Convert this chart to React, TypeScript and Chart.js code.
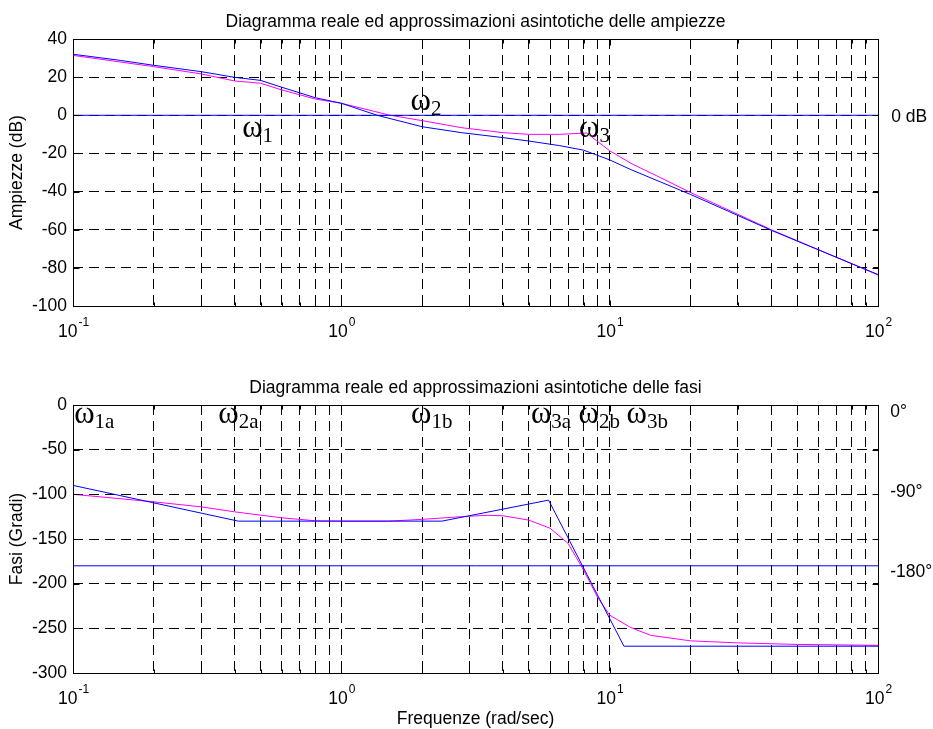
import React, { useEffect, useRef } from 'react';
import { Chart, registerables } from 'chart.js';

Chart.register(...registerables);

// ---------- data ----------
// Magnitude plot (dB)
const magRealFreq = [0.1, 0.15, 0.2, 0.3, 0.4, 0.5, 0.6, 0.8, 1, 1.36, 2, 2.8, 4, 5, 6.5, 8, 10, 12, 20, 40, 100];
const magRealDb = [32, 28.8, 26.2, 22.9, 19.9, 18.3, 14.7, 9.2, 6.3, 0, -6, -9.1, -11.7, -13.5, -15.9, -18.3, -23.4, -28.5, -41.5, -60.3, -83.5];
const magAsymFreq = [0.1, 0.2, 0.3, 0.4, 0.5, 0.6, 0.8, 1, 1.52, 2, 2.8, 4, 5, 6.5, 8.2, 10, 12, 15, 20, 40, 100];
const magAsymDb = [31.4, 25.5, 21.7, 18, 16.8, 13.3, 8.5, 6.3, 0, -2.8, -6.5, -9.1, -10, -10, -9.3, -18.6, -25.2, -31.8, -40.5, -60, -83.7];
const zeroDbFreq = [0.1, 100];
const zeroDbVal = [0, 0];

// Phase plot (degrees)
const phaseAsymFreq = [0.1, 0.413, 2.37, 5.92, 11.3, 100];
const phaseAsymDeg = [-90, -130, -130, -106.5, -270, -270];
const phaseRealFreq = [0.1, 0.2, 0.3, 0.4, 0.6, 0.8, 1, 1.5, 2, 2.8, 3.5, 4, 5, 6, 7, 8, 9, 10, 12, 14.2, 20, 30, 50, 100];
const phaseRealDeg = [-100, -108.4, -114, -119.6, -126.3, -129.6, -130, -130, -128, -125, -123.5, -124, -128.9, -138, -155, -185, -214.8, -235.3, -249.2, -257.8, -264, -266.3, -268, -269];
const minus180Freq = [0.1, 100];
const minus180Val = [-180, -180];

// Axes / ticks
const xTickValues = [0.1, 0.2, 0.3, 0.4, 0.5, 0.6, 0.7, 0.8, 0.9, 1, 2, 3, 4, 5, 6, 7, 8, 9, 10, 20, 30, 40, 50, 60, 70, 80, 90, 100];
const xDecades = [0.1, 1, 10, 100];
const xDecadeExponents = ['-1', '0', '1', '2'];
const magRange = [-100, 40];
const magStep = 20;
const phaseRange = [-300, 0];
const phaseStep = 50;

// Texts
const magTitle = 'Diagramma reale ed approssimazioni asintotiche delle ampiezze';
const phaseTitle = 'Diagramma reale ed approssimazioni asintotiche delle fasi';
const magYTitle = 'Ampiezze (dB)';
const phaseYTitle = 'Fasi (Gradi)';
const phaseXTitle = 'Frequenze (rad/sec)';

// Annotations (anchor in data coordinates: frequency, value)
const magOmegaLabels = [
  { sub: '1', x: 0.427, y: -11.4 },
  { sub: '2', x: 1.81, y: 2.8 },
  { sub: '3', x: 7.69, y: -11.2 },
];
const phaseOmegaLabels = [
  { sub: '1a', x: 0.101, y: -20.1 },
  { sub: '2a', x: 0.348, y: -20.1 },
  { sub: '1b', x: 1.82, y: -20.1 },
  { sub: '3a', x: 5.09, y: -20.1 },
  { sub: '2b', x: 7.66, y: -20.1 },
  { sub: '3b', x: 11.56, y: -20.1 },
];
const magSideLabels = [{ text: '0 dB', x: 112, y: -3.5 }];
const phaseSideLabels = [
  { text: '0°', x: 111, y: -13.4 },
  { text: '-90°', x: 111, y: -103 },
  { text: '-180°', x: 111, y: -192.5 },
];

// ---------- styling ----------
const W = 933;
const H = 729;
const SANS = '"Liberation Sans", Arial, Helvetica, sans-serif';
const SERIF = '"Liberation Serif", "Times New Roman", Times, serif';
const FS = 17.5;
const BLUE = '#0000ff';
const MAGENTA = '#ff00ff';
const DASH = [10, 6];

const pts = (xs: number[], ys: number[]) => xs.map((x, i) => ({ x, y: ys[i] }));

const decorPlugin = {
  id: 'bodeDecor',
  afterDraw(chart: any, _args: any, opts: any) {
    const { ctx, chartArea: ca, scales } = chart;
    const xs = scales.x;
    const ys = scales.y;
    ctx.save();
    ctx.setLineDash([]);
    ctx.strokeStyle = '#000';
    ctx.lineWidth = 1;
    const L = Math.round(ca.left) + 0.5;
    const R = Math.round(ca.right) + 0.5;
    const T = Math.round(ca.top) + 0.5;
    const B = Math.round(ca.bottom) + 0.5;
    // inward tick marks
    ctx.beginPath();
    for (const v of xTickValues) {
      const px = Math.round(xs.getPixelForValue(v)) + 0.5;
      const len = xDecades.includes(v) ? 6 : 4;
      ctx.moveTo(px, T);
      ctx.lineTo(px, T + len);
      ctx.moveTo(px, B);
      ctx.lineTo(px, B - len);
    }
    for (const t of ys.ticks) {
      const py = Math.round(ys.getPixelForValue(t.value)) + 0.5;
      ctx.moveTo(L, py);
      ctx.lineTo(L + 6, py);
      ctx.moveTo(R, py);
      ctx.lineTo(R - 6, py);
    }
    ctx.stroke();
    // frame
    ctx.strokeRect(L, T, R - L, B - T);

    ctx.fillStyle = '#000';
    // decade labels 10^n
    xDecades.forEach((v, i) => {
      const px = xs.getPixelForValue(v);
      ctx.font = `${FS}px ${SANS}`;
      const wMain = ctx.measureText('10').width;
      ctx.font = `12px ${SANS}`;
      const wExp = ctx.measureText(xDecadeExponents[i]).width;
      const start = px - (wMain + wExp) / 2;
      const base = ca.bottom + 31;
      ctx.textAlign = 'left';
      ctx.textBaseline = 'alphabetic';
      ctx.font = `${FS}px ${SANS}`;
      ctx.fillText('10', start, base);
      ctx.font = `12px ${SANS}`;
      ctx.fillText(xDecadeExponents[i], start + wMain + 1, base - 11);
    });

    // title
    ctx.font = `${FS}px ${SANS}`;
    ctx.textAlign = 'center';
    ctx.textBaseline = 'alphabetic';
    ctx.fillText(opts.title, (ca.left + ca.right) / 2, ca.top - 12);

    // x title
    if (opts.xTitle) {
      ctx.fillText(opts.xTitle, (ca.left + ca.right) / 2, ca.bottom + 51);
    }

    // y title
    ctx.save();
    ctx.translate(22, (ca.top + ca.bottom) / 2);
    ctx.rotate(-Math.PI / 2);
    ctx.textAlign = 'center';
    ctx.fillText(opts.yTitle, 0, 0);
    ctx.restore();

    // side labels
    ctx.textAlign = 'left';
    for (const s of opts.side) {
      ctx.fillText(s.text, xs.getPixelForValue(s.x), ys.getPixelForValue(s.y));
    }

    // omega labels
    for (const o of opts.omegas) {
      const px = xs.getPixelForValue(o.x);
      const py = ys.getPixelForValue(o.y);
      ctx.font = `31px ${SERIF}`;
      ctx.fillText('ω', px, py);
      const w = ctx.measureText('ω').width;
      ctx.font = `21px ${SERIF}`;
      ctx.fillText(o.sub, px + w, py + 5);
    }
    ctx.restore();
  },
};

function makeConfig(
  datasets: any[],
  yRange: number[],
  yStep: number,
  padTop: number,
  plotBottom: number,
  decor: any
): any {
  return {
    type: 'line',
    data: { datasets },
    options: {
      responsive: false,
      animation: false,
      events: [],
      layout: { padding: { left: 0, right: W - 878, top: padTop, bottom: H - plotBottom - 10 } },
      plugins: {
        legend: { display: false },
        title: { display: false },
        tooltip: { enabled: false },
        bodeDecor: decor,
      },
      elements: { point: { radius: 0 }, line: { tension: 0, borderWidth: 1 } },
      scales: {
        x: {
          type: 'logarithmic',
          min: 0.1,
          max: 100,
          afterBuildTicks: (s: any) => {
            s.ticks = xTickValues.map((v) => ({ value: v }));
          },
          afterFit: (s: any) => {
            s.height = 10;
          },
          ticks: { display: false, autoSkip: false },
          grid: { color: '#000', lineWidth: 1, drawTicks: false },
          border: { display: false, dash: DASH },
        },
        y: {
          type: 'linear',
          min: yRange[0],
          max: yRange[1],
          afterFit: (s: any) => {
            s.width = 73;
          },
          ticks: {
            stepSize: yStep,
            color: '#000',
            padding: 6,
            font: { family: SANS, size: FS },
          },
          grid: { color: '#000', lineWidth: 1, drawTicks: false },
          border: { display: false, dash: DASH },
        },
      },
    },
    plugins: [decorPlugin],
  };
}

export default function App() {
  const magRef = useRef<HTMLCanvasElement | null>(null);
  const phaseRef = useRef<HTMLCanvasElement | null>(null);

  useEffect(() => {
    const magChart = new Chart(
      magRef.current as HTMLCanvasElement,
      makeConfig(
        [
          { data: pts(zeroDbFreq, zeroDbVal), borderColor: BLUE },
          { data: pts(magRealFreq, magRealDb), borderColor: BLUE },
          { data: pts(magAsymFreq, magAsymDb), borderColor: MAGENTA },
        ],
        magRange,
        magStep,
        39,
        306,
        { title: magTitle, yTitle: magYTitle, xTitle: '', side: magSideLabels, omegas: magOmegaLabels }
      )
    );
    const phaseChart = new Chart(
      phaseRef.current as HTMLCanvasElement,
      makeConfig(
        [
          { data: pts(minus180Freq, minus180Val), borderColor: BLUE },
          { data: pts(phaseAsymFreq, phaseAsymDeg), borderColor: BLUE },
          { data: pts(phaseRealFreq, phaseRealDeg), borderColor: MAGENTA },
        ],
        phaseRange,
        phaseStep,
        405,
        673,
        { title: phaseTitle, yTitle: phaseYTitle, xTitle: phaseXTitle, side: phaseSideLabels, omegas: phaseOmegaLabels }
      )
    );
    return () => {
      magChart.destroy();
      phaseChart.destroy();
    };
  }, []);

  const canvasStyle: React.CSSProperties = { position: 'absolute', left: 0, top: 0 };
  return (
    <div style={{ position: 'absolute', left: 0, top: 0, width: W, height: H, background: '#fff' }}>
      <canvas ref={magRef} width={W} height={H} style={canvasStyle} />
      <canvas ref={phaseRef} width={W} height={H} style={canvasStyle} />
    </div>
  );
}
